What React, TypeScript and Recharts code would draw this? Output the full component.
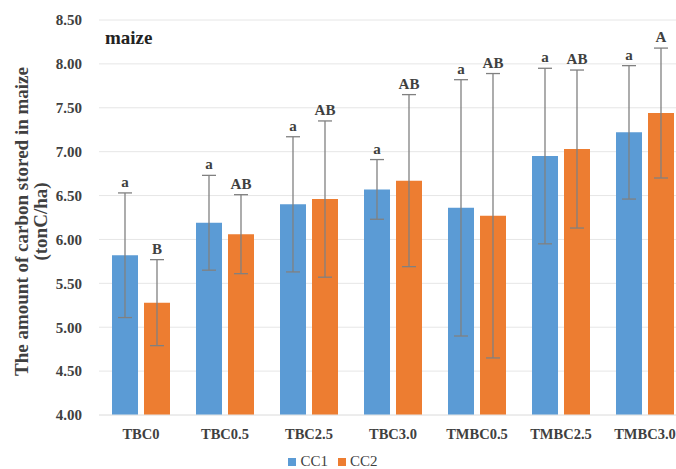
import React from 'react';
import { BarChart, Bar, XAxis, YAxis, CartesianGrid, Legend, ErrorBar, LabelList } from 'recharts';

const treatments = ['TBC0', 'TBC0.5', 'TBC2.5', 'TBC3.0', 'TMBC0.5', 'TMBC2.5', 'TMBC3.0'];
const cc1Values = [5.82, 6.19, 6.40, 6.57, 6.36, 6.95, 7.22];
const cc1Errors = [0.71, 0.54, 0.77, 0.34, 1.46, 1.0, 0.76];
const cc1Letters = ['a', 'a', 'a', 'a', 'a', 'a', 'a'];
const cc2Values = [5.28, 6.06, 6.46, 6.67, 6.27, 7.03, 7.44];
const cc2Errors = [0.49, 0.45, 0.89, 0.98, 1.62, 0.9, 0.74];
const cc2Letters = ['B', 'AB', 'AB', 'AB', 'AB', 'AB', 'A'];
const yTicks = [4.0, 4.5, 5.0, 5.5, 6.0, 6.5, 7.0, 7.5, 8.0, 8.5];

const FONT = '"Liberation Serif", "DejaVu Serif", serif';
const TEXT = '#404040';

const data = treatments.map((name, i) => ({
  name,
  cc1: cc1Values[i],
  cc1Err: cc1Errors[i],
  cc1Letter: cc1Letters[i],
  cc2: cc2Values[i],
  cc2Err: cc2Errors[i],
  cc2Letter: cc2Letters[i],
}));

// letter sits just above the top of the error bar
const letterLabel = (errKey: 'cc1Err' | 'cc2Err', valKey: 'cc1' | 'cc2') => (props: any) => {
  const { x, y, width, height, value, index } = props;
  const row = data[index];
  const pxPerUnit = height / (row[valKey] - 4);
  const top = y - row[errKey] * pxPerUnit;
  return (
    <text x={x + width / 2} y={top - 6} textAnchor="middle" fontFamily={FONT} fontWeight="bold" fontSize={15} fill={TEXT}>
      {value}
    </text>
  );
};

const YLabel = (props: any) => {
  const { viewBox } = props;
  const cy = viewBox.y + viewBox.height / 2 + 4;
  return (
    <g>
      <text transform={`translate(28, ${cy}) rotate(-90)`} textAnchor="middle" fontFamily={FONT} fontWeight="bold" fontSize={19} fill={TEXT}>
        The amount of carbon stored in maize
      </text>
      <text transform={`translate(47, ${cy}) rotate(-90)`} textAnchor="middle" fontFamily={FONT} fontWeight="bold" fontSize={19} fill={TEXT}>
        (tonC/ha)
      </text>
    </g>
  );
};

const App: React.FC = () => {
  return (
    <div style={{ position: 'absolute', left: 0, top: 0, width: 676, height: 469, overflow: 'hidden', background: '#fff' }}>
      <div style={{ position: 'absolute', left: 105, top: 27, fontFamily: FONT, fontWeight: 'bold', fontSize: 19, color: '#222' }}>
        maize
      </div>
      <BarChart
        width={700}
        height={469}
        data={data}
        margin={{ top: 20, right: 13, left: 0, bottom: 6 }}
        barCategoryGap={13}
        barGap={6}
      >
        <CartesianGrid vertical={false} stroke="#e6e6e6" />
        <XAxis
          dataKey="name"
          axisLine={{ stroke: '#e6e6e6' }}
          tickLine={false}
          tick={{ fontFamily: FONT, fontWeight: 'bold', fontSize: 14.5, fill: TEXT }}
          tickMargin={8}
          height={26}
        />
        <YAxis
          domain={[4, 8.5]}
          ticks={yTicks}
          tickFormatter={(v: number) => v.toFixed(2)}
          axisLine={false}
          tickLine={false}
          width={99}
          tickMargin={11}
          tick={{ fontFamily: FONT, fontWeight: 'bold', fontSize: 15, fill: TEXT }}
          label={<YLabel />}
        />
        <Legend
          verticalAlign="bottom"
          iconType="square"
          iconSize={8}
          height={22}
          formatter={(v: string) => <span style={{ color: TEXT, fontFamily: FONT, fontSize: 15 }}>{v}</span>}
          wrapperStyle={{ left: 0, width: 676, bottom: -5 }}
        />
        <Bar dataKey="cc1" name="CC1" fill="#5B9BD5" isAnimationActive={false}>
          <ErrorBar dataKey="cc1Err" stroke="#808080" strokeWidth={1.3} width={7} />
          <LabelList dataKey="cc1Letter" content={letterLabel('cc1Err', 'cc1')} />
        </Bar>
        <Bar dataKey="cc2" name="CC2" fill="#ED7D31" isAnimationActive={false}>
          <ErrorBar dataKey="cc2Err" stroke="#808080" strokeWidth={1.3} width={7} />
          <LabelList dataKey="cc2Letter" content={letterLabel('cc2Err', 'cc2')} />
        </Bar>
      </BarChart>
    </div>
  );
};

export default App;
